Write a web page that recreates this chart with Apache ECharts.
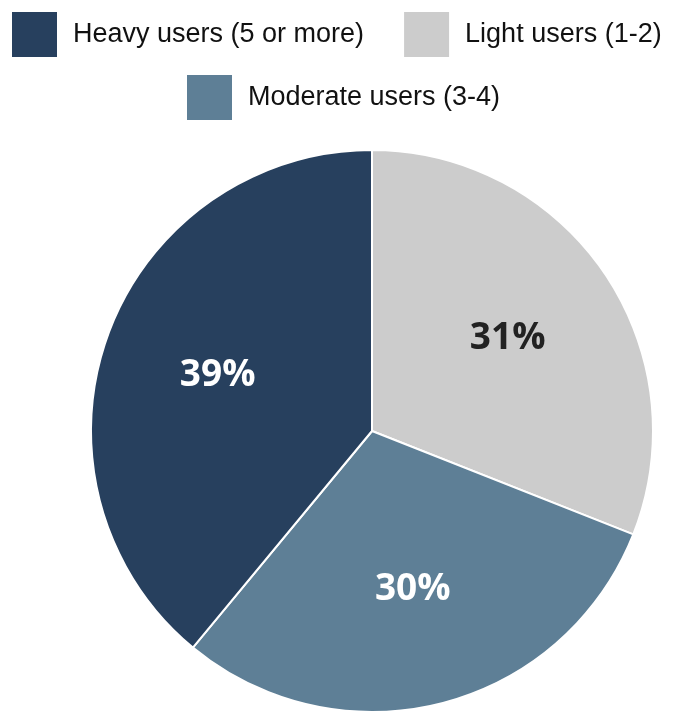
<!DOCTYPE html>
<html>
<head>
<meta charset="utf-8">
<script src="https://cdn.jsdelivr.net/npm/echarts@6/dist/echarts.min.js"></script>
<style>html,body{margin:0;padding:0;background:#fff;}#c{width:675px;height:711px;}</style>
</head>
<body>
<div id="c"></div>
<script>
var categories = ['Light users (1-2)', 'Moderate users (3-4)', 'Heavy users (5 or more)'];
var values = [31, 30, 39];
var colors = ['#cccccc', '#5e7f96', '#27405e'];
var labelColors = ['#222222', '#ffffff', '#ffffff'];
var legendRow1 = ['Heavy users (5 or more)', 'Light users (1-2)'];
var legendRow2 = ['Moderate users (3-4)'];

var chart = echarts.init(document.getElementById('c'));
var legendText = {fontFamily: 'Liberation Sans', fontSize: 27, color: '#111', padding: [6, 0, 0, 10]};
var slices = categories.map(function (c, i) {
  return {name: c, value: values[i], itemStyle: {color: colors[i]}};
});
var labelSlices = categories.map(function (c, i) {
  return {name: c, value: values[i], label: {color: labelColors[i]}};
});
chart.setOption({
  animation: false,
  legend: [
    {data: legendRow1, left: 10, top: 10, padding: 0, itemWidth: 47, itemHeight: 47, itemGap: 38, icon: 'rect', textStyle: legendText, selectedMode: false},
    {data: legendRow2, left: 185, top: 73, padding: 0, itemWidth: 47, itemHeight: 47, icon: 'rect', textStyle: legendText, selectedMode: false}
  ],
  series: [
    {
      type: 'pie', center: [372, 431], radius: 281, startAngle: 90, clockwise: true,
      data: slices, label: {show: false}, labelLine: {show: false},
      itemStyle: {borderColor: '#fff', borderWidth: 2}, silent: true
    },
    {
      type: 'pie', center: [372, 431], radius: 322, startAngle: 90, clockwise: true,
      data: labelSlices, silent: true,
      itemStyle: {color: 'rgba(0,0,0,0)'},
      label: {show: true, position: 'inside', formatter: '{c}%', fontFamily: 'Open Sans', fontWeight: 'bold', fontSize: 37},
      labelLine: {show: false}
    }
  ]
});
</script>
</body>
</html>
